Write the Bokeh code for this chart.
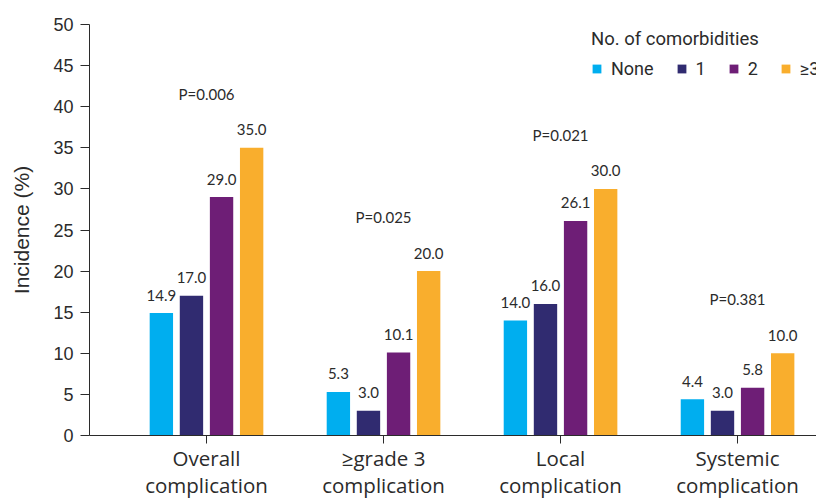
from bokeh.plotting import figure
from bokeh.models import ColumnDataSource, Range1d, FixedTicker, Legend, LegendItem
from bokeh.transform import dodge
from bokeh.core.properties import value
from bokeh.embed import file_html
from bokeh.resources import INLINE

# ---- data ----
categories = ["Overall\ncomplication", "\u2265grade 3\ncomplication",
              "Local\ncomplication", "Systemic\ncomplication"]
series_names = ["None", "1", "2", "\u22653"]
none_vals = [14.9, 5.3, 14.0, 4.4]
one_vals = [17.0, 3.0, 16.0, 3.0]
two_vals = [29.0, 10.1, 26.1, 5.8]
three_vals = [35.0, 20.0, 30.0, 10.0]
p_values = ["P=0.006", "P=0.025", "P=0.021", "P=0.381"]
y_ticks = list(range(0, 51, 5))

# ---- styles ----
colors = ["#00AEEF", "#302B70", "#6E1E76", "#F9AE2D"]
offsets = [-0.255, -0.085, 0.085, 0.255]
bar_w = 0.132
axis_color = "#2b2b2b"
text_color = "#2b2b2b"

xpos = list(range(1, len(categories) + 1))
all_series = [none_vals, one_vals, two_vals, three_vals]

p = figure(width=816, height=501, output_backend="svg", toolbar_location=None,
           x_range=Range1d(0.339, 4.446), y_range=Range1d(0, 50),
           min_border_left=89, min_border_top=24, min_border_right=0,
           min_border_bottom=65)
p.outline_line_color = None
p.xgrid.grid_line_color = None
p.ygrid.grid_line_color = None
p.background_fill_color = "white"

renderers = []
for name, vals, col, off in zip(series_names, all_series, colors, offsets):
    src = ColumnDataSource(dict(x=xpos, v=vals, lbl=["%.1f" % v for v in vals]))
    r = p.vbar(x=dodge("x", off), top="v", width=bar_w, source=src,
               fill_color=col, line_color=None)
    renderers.append((name, r))
    p.text(x=dodge("x", off), y="v", text="lbl", source=src,
           text_align="center", text_baseline="alphabetic", y_offset=-18,
           text_font=value("Lato"), text_font_size="15px", text_color=text_color)

psrc = ColumnDataSource(dict(x=xpos, y=[max(g) for g in zip(*all_series)], t=p_values))
p.text(x="x", y="y", text="t", source=psrc, text_align="center",
       text_baseline="alphabetic", y_offset=-54,
       text_font=value("Lato"), text_font_size="15px", text_color=text_color)

# axes
xa = p.xaxis[0]
xa.axis_label = None
xa.axis_label_standoff = 0
xa.ticker = FixedTicker(ticks=xpos)
xa.major_label_overrides = {i: c for i, c in zip(xpos, categories)}
xa.minor_tick_line_color = None
xa.major_tick_in = 0
xa.major_tick_out = 8
xa.major_label_standoff = 0
xa.axis_line_color = axis_color
xa.major_tick_line_color = axis_color
xa.major_label_text_font = "Open Sans"
xa.major_label_text_font_size = "20.5px"
xa.major_label_text_line_height = 0.97
xa.major_label_text_color = text_color

ya = p.yaxis[0]
ya.ticker = FixedTicker(ticks=y_ticks)
ya.minor_tick_line_color = None
ya.major_tick_in = 0
ya.major_tick_out = 9
ya.major_label_standoff = 7
ya.axis_line_color = axis_color
ya.major_tick_line_color = axis_color
ya.major_label_text_font = "Liberation Sans"
ya.major_label_text_font_size = "18px"
ya.major_label_text_color = text_color
ya.axis_label = "Incidence (%)"
ya.axis_label_text_font = "Liberation Sans"
ya.axis_label_text_font_size = "21px"
ya.axis_label_text_font_style = "normal"
ya.axis_label_text_color = text_color
ya.axis_label_standoff = 17

legend = Legend(items=[LegendItem(label=n, renderers=[r]) for n, r in renderers],
                orientation="horizontal", location=(502, 356),
                title="No. of comorbidities", title_text_font="Roboto",
                title_text_font_size="18.5px", title_text_font_style="normal",
                title_text_color=text_color, title_standoff=8,
                label_text_font="Roboto", label_text_font_size="18px",
                label_text_color=text_color, padding=0, margin=0, spacing=22,
                label_standoff=9, glyph_width=11, glyph_height=11, label_width=0,
                background_fill_alpha=0, border_line_color=None)
p.add_layout(legend)

open("out.html", "w").write(file_html(p, INLINE))
